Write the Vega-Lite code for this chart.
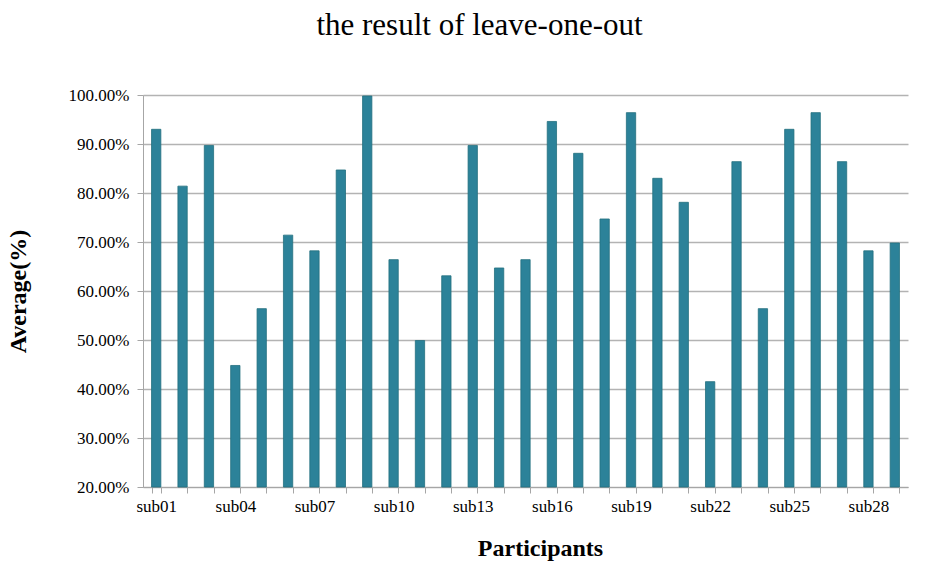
{
  "$schema": "https://vega.github.io/schema/vega-lite/v6.json",
  "autosize": "none",
  "width": 765,
  "height": 392,
  "padding": {"left": 143, "top": 95, "right": 28, "bottom": 80},
  "background": "white",
  "title": {
    "text": "the result of leave-one-out",
    "font": "Liberation Serif",
    "fontSize": 31,
    "fontWeight": "normal",
    "color": "#000000",
    "anchor": "middle",
    "offset": 44,
    "dx": -46
  },
  "config": {
    "view": {"stroke": null},
    "axis": {
      "labelFont": "Liberation Serif",
      "titleFont": "Liberation Serif",
      "labelColor": "#000000",
      "titleColor": "#000000",
      "domainColor": "#a6a6a6",
      "tickColor": "#a6a6a6",
      "gridColor": "#b3b3b3",
      "gridWidth": 1.3
    }
  },
  "data": {
    "values": [
      {"participant": "sub01", "average": 93.0},
      {"participant": "sub02", "average": 81.4},
      {"participant": "sub03", "average": 89.7},
      {"participant": "sub04", "average": 44.8},
      {"participant": "sub05", "average": 56.4},
      {"participant": "sub06", "average": 71.4},
      {"participant": "sub07", "average": 68.2},
      {"participant": "sub08", "average": 84.7},
      {"participant": "sub09", "average": 99.8},
      {"participant": "sub10", "average": 66.4},
      {"participant": "sub11", "average": 49.9},
      {"participant": "sub12", "average": 63.1},
      {"participant": "sub13", "average": 89.7},
      {"participant": "sub14", "average": 64.7},
      {"participant": "sub15", "average": 66.4},
      {"participant": "sub16", "average": 94.6},
      {"participant": "sub17", "average": 88.1},
      {"participant": "sub18", "average": 74.7},
      {"participant": "sub19", "average": 96.4},
      {"participant": "sub20", "average": 83.0},
      {"participant": "sub21", "average": 78.1},
      {"participant": "sub22", "average": 41.5},
      {"participant": "sub23", "average": 86.4},
      {"participant": "sub24", "average": 56.4},
      {"participant": "sub25", "average": 93.0},
      {"participant": "sub26", "average": 96.4},
      {"participant": "sub27", "average": 86.4},
      {"participant": "sub28", "average": 68.2},
      {"participant": "sub29", "average": 69.8}
    ]
  },
  "mark": {"type": "bar", "color": "#2c8299", "stroke": "#23707f", "strokeWidth": 0.8},
  "encoding": {
    "x": {
      "field": "participant",
      "type": "nominal",
      "sort": null,
      "scale": {"paddingInner": 0.647, "paddingOuter": 0.3235},
      "axis": {
        "title": "Participants",
        "titleFontSize": 24,
        "titleFontWeight": "bold",
        "titlePadding": 22,
        "titleX": 397,
        "labelAngle": 0,
        "labelFontSize": 17,
        "labelPadding": 5,
        "tickSize": 6,
        "tickBand": "extent",
        "grid": false,
        "labelExpr": "indexof(['sub01','sub04','sub07','sub10','sub13','sub16','sub19','sub22','sub25','sub28'], datum.value) >= 0 ? datum.label : ''"
      }
    },
    "y": {
      "field": "average",
      "type": "quantitative",
      "scale": {"domain": [20, 100], "nice": false, "zero": false},
      "axis": {
        "title": "Average(%)",
        "titleFontSize": 24,
        "titleFontWeight": "bold",
        "titlePadding": 38,
        "values": [20, 30, 40, 50, 60, 70, 80, 90, 100],
        "labelExpr": "format(datum.value, '.2f') + '%'",
        "labelFontSize": 17,
        "labelPadding": 8,
        "tickSize": 6
      }
    },
    "y2": {"datum": 20}
  }
}
